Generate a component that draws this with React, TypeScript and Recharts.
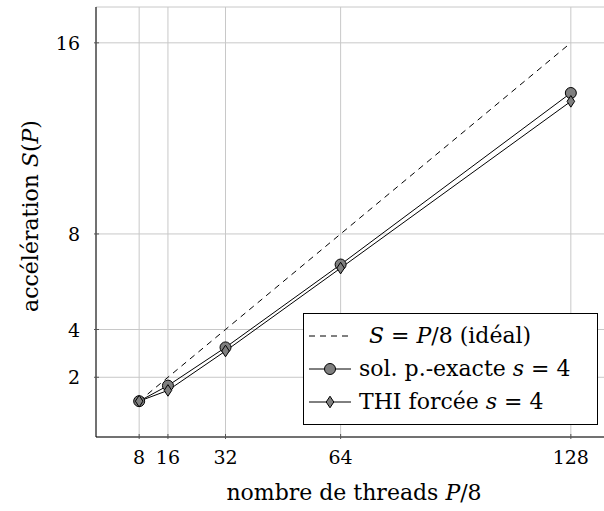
import React from 'react';
import {
    LineChart,
    Line,
    XAxis,
    YAxis,
    CartesianGrid,
    Label,
} from 'recharts';

const threads = [8, 16, 32, 64, 128];
const ideal = [1, 2, 4, 8, 16];
const solExacte = [1, 1.65, 3.25, 6.72, 13.9];
const thiForcee = [1, 1.45, 3.1, 6.57, 13.55];
const xTicks = [8, 16, 32, 64, 128];
const yTicks = [2, 4, 8, 16];

const FONT = 'DejaVu Serif';
const FS = 22; // labels / legend
const TICK_FS = 19;
const MARK_FILL = '#7f7f7f';

const data = threads.map((p, i) => ({
    p,
    ideal: ideal[i],
    sol: solExacte[i],
    thi: thiForcee[i],
}));

const txt = { fontFamily: FONT, fontSize: FS };
const tickTxt = { fontFamily: FONT, fontSize: TICK_FS };

const BottomTick = (props: any) => {
    const { x, y, payload } = props;
    return (
        <g>
            <line x1={x} y1={y} x2={x} y2={y - 5} stroke="#555" />
            <text x={x} y={y + 25} textAnchor="middle" style={tickTxt} fill="#000">
                {payload.value}
            </text>
        </g>
    );
};

const TopTick = (props: any) => {
    const { x, y } = props;
    return <line x1={x} y1={y} x2={x} y2={y + 5} stroke="#555" />;
};

const LeftTick = (props: any) => {
    const { x, y, payload } = props;
    return (
        <g>
            <line x1={x} y1={y} x2={x + 5} y2={y} stroke="#555" />
            <text x={x - 14} y={y + 7} textAnchor="end" style={tickTxt} fill="#000">
                {payload.value}
            </text>
        </g>
    );
};

const CircleDot = (props: any) => {
    const { cx, cy } = props;
    if (cx == null || cy == null) return null;
    return <circle cx={cx} cy={cy} r={5.5} fill={MARK_FILL} stroke="#000" strokeWidth={1} />;
};

const DiamondDot = (props: any) => {
    const { cx, cy } = props;
    if (cx == null || cy == null) return null;
    const w = 3.8;
    const h = 5.8;
    return (
        <polygon
            points={`${cx},${cy - h} ${cx + w},${cy} ${cx},${cy + h} ${cx - w},${cy}`}
            fill={MARK_FILL}
            stroke="#000"
            strokeWidth={1}
        />
    );
};

// legend drawn as an overlay so it doesn't steal room from the plot
const LegendBox = () => {
    const row: React.CSSProperties = {
        display: 'flex',
        alignItems: 'center',
        height: 33,
        fontFamily: FONT,
        fontSize: FS,
        whiteSpace: 'nowrap',
        color: '#000',
    };
    return (
        <div
            style={{
                position: 'absolute',
                left: 303,
                top: 313,
                border: '1px solid #000',
                background: '#fff',
                padding: '5px 0 0 3px',
                boxSizing: 'border-box',
                width: 295,
                height: 112,
                lineHeight: 1,
            }}
        >
            <div style={row}>
                <svg width={46} height={20}>
                    <line x1={2} y1={10} x2={44} y2={10} stroke="#000" strokeDasharray="6 5" />
                </svg>
                <span style={{ marginLeft: 16 }}>
                    <i>S</i> = <i>P</i>/8 (idéal)
                </span>
            </div>
            <div style={row}>
                <svg width={46} height={20}>
                    <line x1={2} y1={10} x2={44} y2={10} stroke="#000" />
                    <circle cx={23} cy={10} r={5.5} fill={MARK_FILL} stroke="#000" />
                </svg>
                <span style={{ marginLeft: 6 }}>
                    sol. p.-exacte <i>s</i> = 4
                </span>
            </div>
            <div style={row}>
                <svg width={46} height={20}>
                    <line x1={2} y1={10} x2={44} y2={10} stroke="#000" />
                    <polygon points="23,4.2 26.8,10 23,15.8 19.2,10" fill={MARK_FILL} stroke="#000" />
                </svg>
                <span style={{ marginLeft: 6 }}>
                    THI forcée <i>s</i> = 4
                </span>
            </div>
        </div>
    );
};

const XLabel = (props: any) => {
    const { viewBox } = props;
    const cx = viewBox.x + 258;
    return (
        <text x={cx} y={viewBox.y + 63} textAnchor="middle" style={txt} fill="#000">
            nombre de threads <tspan fontStyle="italic">P</tspan>/8
        </text>
    );
};

const YLabel = (props: any) => {
    const { viewBox } = props;
    const cy = viewBox.y + viewBox.height / 2 - 6;
    const x = 38;
    return (
        <text
            x={x}
            y={cy}
            transform={`rotate(-90, ${x}, ${cy})`}
            textAnchor="middle"
            style={txt}
            fill="#000"
        >
            accélération <tspan fontStyle="italic">S</tspan>(<tspan fontStyle="italic">P</tspan>)
        </text>
    );
};

export default function App() {
    return (
        <div style={{ position: 'absolute', left: 0, top: 0, width: 604, height: 511, overflow: 'hidden', background: '#fff' }}>
            <LineChart
                width={620}
                height={511}
                data={data}
                margin={{ top: 7, right: 6, bottom: 0, left: 0 }}
            >
                <CartesianGrid stroke="#c8c8c8" strokeWidth={1} />
                <XAxis
                    dataKey="p"
                    type="number"
                    domain={[-4, 140]}
                    ticks={xTicks}
                    allowDataOverflow
                    axisLine={{ stroke: '#000' }}
                    tickLine={false}
                    tickSize={0}
                    tick={<BottomTick />}
                    height={74}
                >
                    <Label content={<XLabel />} />
                </XAxis>
                <XAxis
                    xAxisId="top"
                    orientation="top"
                    dataKey="p"
                    type="number"
                    domain={[-4, 140]}
                    ticks={xTicks}
                    allowDataOverflow
                    axisLine={{ stroke: '#000' }}
                    tickLine={false}
                    tickSize={0}
                    tick={<TopTick />}
                    height={0}
                />
                <YAxis
                    type="number"
                    domain={[-0.5, 17.5]}
                    ticks={yTicks}
                    allowDataOverflow
                    axisLine={{ stroke: '#000' }}
                    tickLine={false}
                    tickSize={0}
                    tick={<LeftTick />}
                    width={96}
                >
                    <Label content={<YLabel />} />
                </YAxis>
                <Line
                    dataKey="ideal"
                    stroke="#000"
                    strokeWidth={1}
                    strokeDasharray="6 5"
                    dot={false}
                    isAnimationActive={false}
                />
                <Line
                    dataKey="sol"
                    stroke="#000"
                    strokeWidth={1}
                    dot={<CircleDot />}
                    isAnimationActive={false}
                />
                <Line
                    dataKey="thi"
                    stroke="#000"
                    strokeWidth={1}
                    dot={<DiamondDot />}
                    isAnimationActive={false}
                />
            </LineChart>
            <LegendBox />
        </div>
    );
}
